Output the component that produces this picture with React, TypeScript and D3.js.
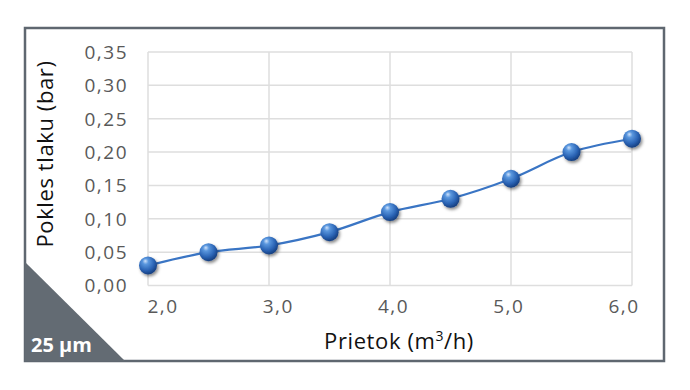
import React, { useEffect, useRef } from 'react';
import * as d3 from 'd3';

const flow = [2.0, 2.5, 3.0, 3.5, 4.0, 4.5, 5.0, 5.5, 6.0];
const pressureDrop = [0.03, 0.05, 0.06, 0.08, 0.11, 0.13, 0.16, 0.2, 0.22];
const xTicks = [2, 3, 4, 5, 6];
const yTicks = [0, 0.05, 0.1, 0.15, 0.2, 0.25, 0.3, 0.35];
const badgeText = '25 µm';

const W = 690;
const H = 390;
const FONT = '"Open Sans", "Noto Sans", sans-serif';

const App = () => {
  const svgRef = useRef<SVGSVGElement | null>(null);

  useEffect(() => {
    const svg = d3.select(svgRef.current);
    svg.selectAll('*').remove();

    const plot = { left: 148, right: 632, top: 52, bottom: 285.5 };

    const x = d3.scaleLinear().domain([2, 6]).range([plot.left, plot.right]);
    // tick labels sit slightly inside the ends, as in the original
    const xLabel = d3.scaleLinear().domain([2, 6]).range([162, 623]);
    const y = d3.scaleLinear().domain([0, 0.35]).range([plot.bottom, plot.top]);
    const fmt = (d: number, n: number) => d.toFixed(n).replace('.', ',');

    svg.append('rect').attr('width', W).attr('height', H).attr('fill', 'white');

    const defs = svg.append('defs');
    const grad = defs.append('radialGradient')
      .attr('id', 'ball')
      .attr('cx', '40%').attr('cy', '35%').attr('r', '65%')
      .attr('fx', '35%').attr('fy', '25%');
    grad.append('stop').attr('offset', '0%').attr('stop-color', '#cfe2fb');
    grad.append('stop').attr('offset', '25%').attr('stop-color', '#5a97de');
    grad.append('stop').attr('offset', '70%').attr('stop-color', '#2a63b4');
    grad.append('stop').attr('offset', '100%').attr('stop-color', '#163f80');
    const shadow = defs.append('filter').attr('id', 'shadow')
      .attr('x', '-50%').attr('y', '-50%').attr('width', '200%').attr('height', '200%');
    shadow.append('feDropShadow')
      .attr('dx', 1.5).attr('dy', 2).attr('stdDeviation', 1.8)
      .attr('flood-color', '#000').attr('flood-opacity', 0.45);

    // frame
    svg.append('rect')
      .attr('x', 25).attr('y', 28).attr('width', 639).attr('height', 333)
      .attr('fill', 'white').attr('stroke', '#5f6770').attr('stroke-width', 2.5);

    // corner badge
    svg.append('path')
      .attr('d', 'M25,262 L25,361 L125,361 Z')
      .attr('fill', '#636b73');
    svg.append('text')
      .attr('x', 31).attr('y', 352)
      .attr('fill', 'white').attr('font-family', FONT)
      .attr('font-size', 20).attr('font-weight', 700)
      .text(badgeText);

    // grid
    svg.append('g').selectAll('line')
      .data(yTicks).enter().append('line')
      .attr('x1', plot.left).attr('x2', plot.right)
      .attr('y1', d => y(d)).attr('y2', d => y(d))
      .attr('stroke', '#dedede').attr('stroke-width', 1.5);
    svg.append('g').selectAll('line')
      .data(xTicks).enter().append('line')
      .attr('x1', d => x(d)).attr('x2', d => x(d))
      .attr('y1', plot.top).attr('y2', plot.bottom)
      .attr('stroke', '#dedede').attr('stroke-width', 1.5);

    // tick labels
    svg.append('g').selectAll('text')
      .data(yTicks).enter().append('text')
      .attr('x', 128).attr('y', d => y(d))
      .attr('dy', '0.36em').attr('text-anchor', 'end')
      .attr('letter-spacing', 1.5)
      .attr('fill', '#595959').attr('font-family', FONT).attr('font-size', 19)
      .text(d => fmt(d, 2));
    svg.append('g').selectAll('text')
      .data(xTicks).enter().append('text')
      .attr('x', d => xLabel(d) + 1).attr('y', 313)
      .attr('text-anchor', 'middle')
      .attr('letter-spacing', 1.5)
      .attr('fill', '#595959').attr('font-family', FONT).attr('font-size', 19)
      .text(d => fmt(d, 1));

    // axis titles
    const xt = svg.append('text')
      .attr('x', 399).attr('y', 349).attr('text-anchor', 'middle')
      .attr('letter-spacing', 0.6)
      .attr('fill', '#111').attr('font-family', FONT).attr('font-size', 22);
    xt.append('tspan').attr('font-weight', 500).text('Prietok ');
    xt.append('tspan').attr('font-weight', 400).text('(m');
    xt.append('tspan').attr('font-size', 14).attr('dy', -8).text('3');
    xt.append('tspan').attr('dy', 8).text('/h)');

    const yt = svg.append('text')
      .attr('transform', 'translate(53, 154) rotate(-90)')
      .attr('text-anchor', 'middle')
      .attr('letter-spacing', 0.6)
      .attr('fill', '#111').attr('font-family', FONT).attr('font-size', 22);
    yt.append('tspan').attr('font-weight', 500).text('Pokles tlaku ');
    yt.append('tspan').attr('font-weight', 400).text('(bar)');

    // line + markers
    const line = d3.line<number>()
      .x((d, i) => x(flow[i]))
      .y(d => y(d))
      .curve(d3.curveCatmullRom.alpha(0.5));
    svg.append('path')
      .datum(pressureDrop)
      .attr('d', line)
      .attr('fill', 'none')
      .attr('stroke', '#3a75c4')
      .attr('stroke-width', 2.2);

    svg.append('g').selectAll('circle')
      .data(pressureDrop).enter().append('circle')
      .attr('cx', (d, i) => x(flow[i]))
      .attr('cy', d => y(d))
      .attr('r', 9)
      .attr('fill', 'url(#ball)')
      .attr('filter', 'url(#shadow)');
  }, []);

  return (
    <svg ref={svgRef} width={W} height={H}
      style={{ position: 'absolute', left: 0, top: 0, display: 'block' }}></svg>
  );
};

export default App;
